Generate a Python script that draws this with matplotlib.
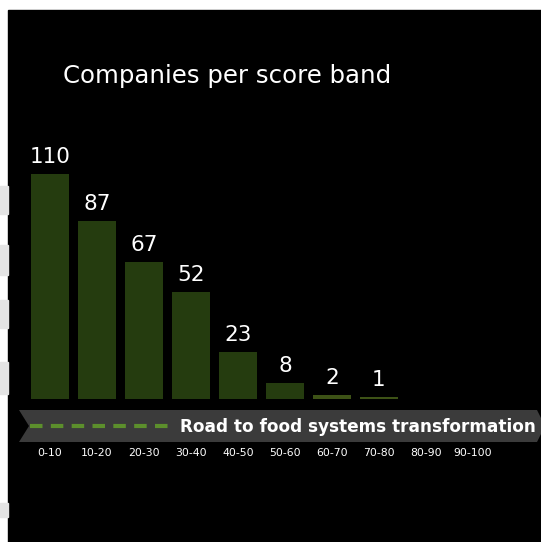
import matplotlib
matplotlib.use("Agg")
import matplotlib.pyplot as plt
from matplotlib.patches import Rectangle, Polygon

# score bands and number of companies in each
bands = ["0-10", "10-20", "20-30", "30-40", "40-50",
         "50-60", "60-70", "70-80", "80-90", "90-100"]
counts = [110, 87, 67, 52, 23, 8, 2, 1]

title = "Companies per score band"
road_label = "Road to food systems transformation"

W, H = 541, 542
fig = plt.figure(figsize=(W / 100, H / 100), dpi=100)
fig.patch.set_facecolor("white")

# background layer in pixel units, origin top-left
bg = fig.add_axes([0, 0, 1, 1])
bg.set_xlim(0, W)
bg.set_ylim(H, 0)
bg.axis("off")
bg.add_patch(Rectangle((8, 10), W - 8, H - 10, color="black"))
# faint marks on the white margin
for y0, h in [(186, 28), (245, 30), (300, 28), (362, 32), (503, 14)]:
    bg.add_patch(Rectangle((0, y0), 8, h, color="#e4e4e4"))

# road banner
bg.add_patch(Polygon([(19, 410), (537, 410), (545, 426), (537, 442),
                      (19, 442), (29, 426)], closed=True,
                     facecolor="#3b3b3b", edgecolor="none"))
bg.plot([30, 174], [426, 426], color="#5c8f2c", lw=3, ls=(0, (3, 2)))
bg.text(180, 427, road_label, color="white", fontsize=12.2,
        fontweight="bold", va="center", ha="left")

bg.text(63, 76, title, color="white", fontsize=17.6,
        va="center", ha="left")

# bar chart
x0_px, step = 50, 47
left_px = x0_px - 0.5 * step
right_px = x0_px + 9.5 * step
bottom_px, top_px = 399, 399 - 120 * 2.05
ax = fig.add_axes([left_px / W, 1 - bottom_px / H,
                   (right_px - left_px) / W, (bottom_px - top_px) / H])
ax.set_facecolor("none")
ax.set_xlim(-0.5, 9.5)
ax.set_ylim(0, 120)

pos = list(range(len(counts)))
colors = ["#253c0f"] * 6 + ["#3d5216", "#3d5216"]
ax.bar(pos, counts, width=0.81, color=colors)
for p, c in zip(pos, counts):
    ax.annotate(str(c), (p, c), xytext=(0, 5), textcoords="offset points",
                ha="center", va="bottom", color="white", fontsize=15.5)

ax.set_xticks(range(len(bands)), bands)
ax.tick_params(axis="x", length=0, pad=35, colors="white", labelsize=7.8)
ax.set_yticks([])
for s in ax.spines.values():
    s.set_visible(False)

fig.savefig("out.png", dpi=100, facecolor=fig.get_facecolor())
